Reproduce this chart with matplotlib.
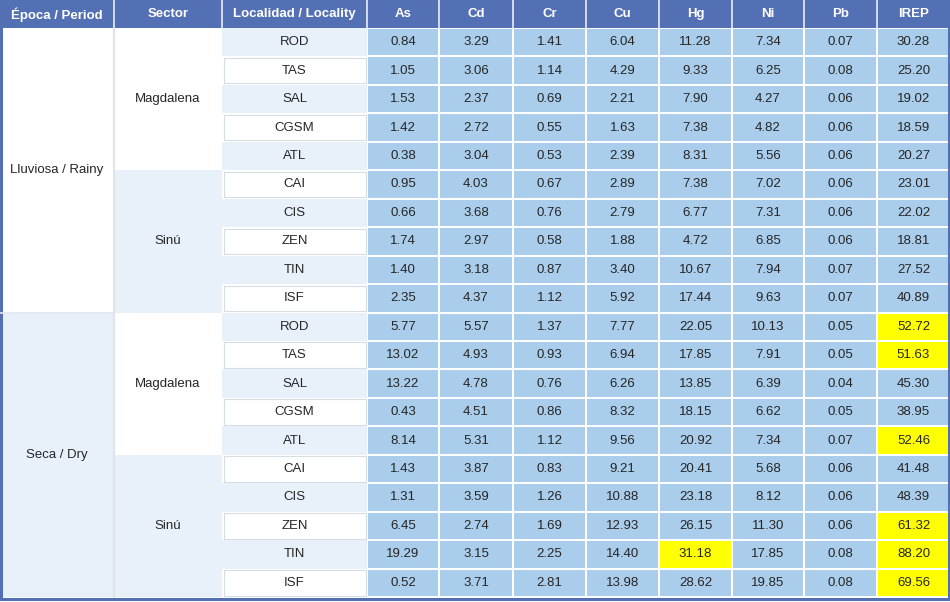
import matplotlib
matplotlib.use("Agg")
import matplotlib.pyplot as plt
from matplotlib.patches import Rectangle
from matplotlib import font_manager

headers = ["Época / Period", "Sector", "Localidad / Locality", "As", "Cd", "Cr", "Cu", "Hg", "Ni", "Pb", "IREP"]
periods = ["Lluviosa / Rainy", "Seca / Dry"]
sectors = ["Magdalena", "Sinú"]
localities = ["ROD", "TAS", "SAL", "CGSM", "ATL", "CAI", "CIS", "ZEN", "TIN", "ISF"]

As = [0.84, 1.05, 1.53, 1.42, 0.38, 0.95, 0.66, 1.74, 1.40, 2.35,
      5.77, 13.02, 13.22, 0.43, 8.14, 1.43, 1.31, 6.45, 19.29, 0.52]
Cd = [3.29, 3.06, 2.37, 2.72, 3.04, 4.03, 3.68, 2.97, 3.18, 4.37,
      5.57, 4.93, 4.78, 4.51, 5.31, 3.87, 3.59, 2.74, 3.15, 3.71]
Cr = [1.41, 1.14, 0.69, 0.55, 0.53, 0.67, 0.76, 0.58, 0.87, 1.12,
      1.37, 0.93, 0.76, 0.86, 1.12, 0.83, 1.26, 1.69, 2.25, 2.81]
Cu = [6.04, 4.29, 2.21, 1.63, 2.39, 2.89, 2.79, 1.88, 3.40, 5.92,
      7.77, 6.94, 6.26, 8.32, 9.56, 9.21, 10.88, 12.93, 14.40, 13.98]
Hg = [11.28, 9.33, 7.90, 7.38, 8.31, 7.38, 6.77, 4.72, 10.67, 17.44,
      22.05, 17.85, 13.85, 18.15, 20.92, 20.41, 23.18, 26.15, 31.18, 28.62]
Ni = [7.34, 6.25, 4.27, 4.82, 5.56, 7.02, 7.31, 6.85, 7.94, 9.63,
      10.13, 7.91, 6.39, 6.62, 7.34, 5.68, 8.12, 11.30, 17.85, 19.85]
Pb = [0.07, 0.08, 0.06, 0.06, 0.06, 0.06, 0.06, 0.06, 0.07, 0.07,
      0.05, 0.05, 0.04, 0.05, 0.07, 0.06, 0.06, 0.06, 0.08, 0.08]
IREP = [30.28, 25.20, 19.02, 18.59, 20.27, 23.01, 22.02, 18.81, 27.52, 40.89,
        52.72, 51.63, 45.30, 38.95, 52.46, 41.48, 48.39, 61.32, 88.20, 69.56]
# highlighted cells (row index, column name)
highlights = [(10, "IREP"), (11, "IREP"), (14, "IREP"), (17, "IREP"),
              (18, "Hg"), (18, "IREP"), (19, "IREP")]

values = {"As": As, "Cd": Cd, "Cr": Cr, "Cu": Cu, "Hg": Hg, "Ni": Ni, "Pb": Pb, "IREP": IREP}
metals = headers[3:]

# font choice
avail = {f.name for f in font_manager.fontManager.ttflist}
fam = "Liberation Sans Narrow" if "Liberation Sans Narrow" in avail else "Liberation Sans"
plt.rcParams["font.family"] = [fam, "DejaVu Sans"]

W, H = 950, 602
fig = plt.figure(figsize=(9.5, 6.02), dpi=100)
ax = fig.add_axes([0, 0, 1, 1])
ax.set_xlim(0, W)
ax.set_ylim(H, 0)
ax.axis("off")

col_edges = [0, 114, 222, 367, 439, 513, 586, 659, 732, 804, 877, 950]
header_h = 27.5
top = 28.0
bottom = 597.0
nrows = len(As)
rh = (bottom - top) / nrows

HEAD = "#5370b5"
CELL = "#a9cdeb"
LIGHT = "#e8f1fa"
WHITE = "#ffffff"
TXT = "#262626"
fs = 10.4 if "Narrow" in fam else 9.5

fig.patch.set_facecolor("white")

# header
ax.add_patch(Rectangle((0, 0), W, header_h, facecolor=HEAD, edgecolor="none"))
for i, h in enumerate(headers):
    cx = (col_edges[i] + col_edges[i + 1]) / 2
    ax.text(cx, header_h / 2 + 0.5, h, ha="center", va="center", color="white",
            fontsize=fs, fontweight="bold")
    if i > 0:
        ax.plot([col_edges[i], col_edges[i]], [0, header_h], color="#e8eef8", lw=1.2)

def ry(r):
    return top + r * rh

# period column
for p, name in enumerate(periods):
    y0 = ry(p * 10)
    ax.add_patch(Rectangle((col_edges[0], y0), col_edges[1] - col_edges[0], 10 * rh,
                           facecolor=WHITE if p == 0 else LIGHT, edgecolor="none"))
    ax.text((col_edges[0] + col_edges[1]) / 2, y0 + 10 * rh / 2, name, ha="center",
            va="center", color=TXT, fontsize=fs)
ax.plot([0, col_edges[1]], [ry(10), ry(10)], color="#dfe6ee", lw=1.2)

# sector column
for p in range(2):
    for s, name in enumerate(sectors):
        y0 = ry(p * 10 + s * 5)
        ax.add_patch(Rectangle((col_edges[1], y0), col_edges[2] - col_edges[1], 5 * rh,
                               facecolor=WHITE if s == 0 else LIGHT, edgecolor="none"))
        ax.text((col_edges[1] + col_edges[2]) / 2, y0 + 5 * rh / 2, name, ha="center",
                va="center", color=TXT, fontsize=fs)
ax.plot([col_edges[1], col_edges[1]], [header_h, bottom], color="#e0e4e8", lw=1.5)

# locality column
for r in range(nrows):
    y0 = ry(r)
    loc = localities[r % 10]
    if r % 2 == 0:
        ax.add_patch(Rectangle((col_edges[2], y0), col_edges[3] - col_edges[2], rh,
                               facecolor=LIGHT, edgecolor="none"))
    else:
        ax.add_patch(Rectangle((col_edges[2] + 1.5, y0 + 1.5), col_edges[3] - col_edges[2] - 3, rh - 3,
                               facecolor=WHITE, edgecolor="#d6dce3", lw=0.8))
    ax.text((col_edges[2] + col_edges[3]) / 2, y0 + rh / 2, loc, ha="center",
            va="center", color=TXT, fontsize=fs)

# data cells
hl = set(highlights)
for j, m in enumerate(metals):
    x0 = col_edges[3 + j]
    x1 = col_edges[4 + j]
    for r in range(nrows):
        y0 = ry(r)
        fc = "#ffff00" if (r, m) in hl else CELL
        ax.add_patch(Rectangle((x0 + 1, y0 + 1), x1 - x0 - 2, rh - 2,
                               facecolor=fc, edgecolor="none"))
        ax.text((x0 + x1) / 2, y0 + rh / 2, f"{values[m][r]:.2f}", ha="center",
                va="center", color=TXT, fontsize=fs)

# outer border
ax.add_patch(Rectangle((1, 0), W - 2, bottom + 1.5, facecolor="none", edgecolor=HEAD, lw=2.2))

fig.savefig("out.png", dpi=100, facecolor="white")
